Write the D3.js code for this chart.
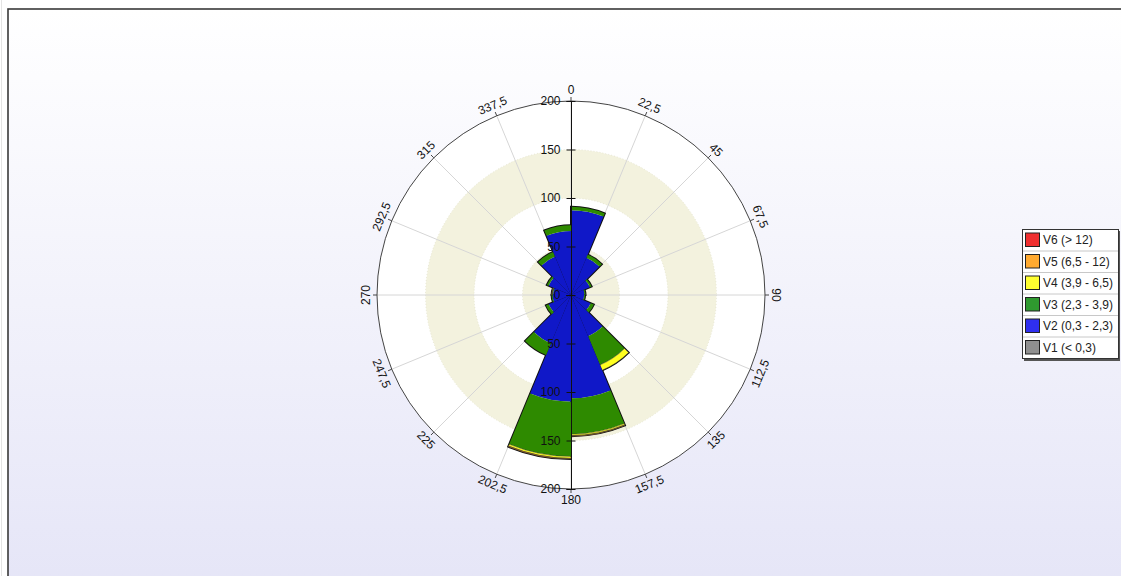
<!DOCTYPE html>
<html>
<head>
<meta charset="utf-8">
<script src="https://cdn.jsdelivr.net/npm/d3@7"></script>
<style>
  html, body { margin: 0; padding: 0; background: #ffffff; }
  svg { display: block; font-family: "Liberation Sans", Arial, sans-serif; }
</style>
</head>
<body>
<svg id="chart" width="1121" height="576"></svg>
<script>
// ---- data ----
const directionLabels = ["0","22,5","45","67,5","90","112,5","135","157,5","180","202,5","225","247,5","270","292,5","315","337,5"];
const sectorStart = [0,22.5,45,67.5,90,112.5,135,157.5,180,202.5,225,247.5,270,292.5,315,337.5];
const seriesNames = ["V1 (< 0,3)","V2 (0,3 - 2,3)","V3 (2,3 - 3,9)","V4 (3,9 - 6,5)","V5 (6,5 - 12)","V6 (> 12)"];
const v1 = [0,0,0,0,0,0,0,0,0,0,0,0,0,0,0,0];
const v2 = [87.5,41.5,21,14,13.5,22,46,106.5,110,54,25,19,18.5,25,43,66];
const v3 = [3.5,3.5,2,1,1,3.5,32,37,56.5,13,3,1,1,2,5,6];
const v4 = [0,0,0,0,0,0,6,1.5,2,0,0,0,0,0,0,0];
const v5 = [0,0,0,0,0,0,0,0.5,0.7,0,0,0,0.5,0,0,0];
const v6 = [0,0,0,0,0,0,0,0,0,0,0,0,0,0,0,0];
const radialTicks = [0,50,100,150,200];

const barColors = ["#8c8c8c","#1018c8","#2e8a00","#ffff20","#ffa020","#ff2020"];
const legendColors = ["#909090","#2f2ff0","#2f9a2f","#ffff30","#ffaa30","#f03030"];
const series = [v1,v2,v3,v4,v5,v6];

// ---- layout ----
const W = 1121, H = 576;
const cx = 571, cy = 295, R = 194;
const svg = d3.select("#chart");

const defs = svg.append("defs");
const grad = defs.append("linearGradient").attr("id","bg").attr("x1",0).attr("y1",0).attr("x2",0).attr("y2",1);
grad.append("stop").attr("offset","0%").attr("stop-color","#ffffff");
grad.append("stop").attr("offset","100%").attr("stop-color","#e5e5f7");

svg.append("line").attr("x1",1.5).attr("x2",1.5).attr("y1",0).attr("y2",H).attr("stroke","#e4e4e4");
svg.append("rect").attr("x",8).attr("y",9).attr("width",W+10).attr("height",H+10)
  .attr("fill","url(#bg)").attr("stroke","#3a3a3a").attr("stroke-width",1.6);

const r = d3.scaleLinear().domain([0,200]).range([0,R]);
const g = svg.append("g").attr("transform",`translate(${cx},${cy})`);

// bands
g.append("circle").attr("r", r(200)).attr("fill","#ffffff");
g.append("circle").attr("r", r(150)).attr("fill","#f3f2de");
g.append("circle").attr("r", r(100)).attr("fill","#ffffff");
g.append("circle").attr("r", r(50)).attr("fill","#f3f2de");
[50,100,150].forEach(v => g.append("circle").attr("r", r(v)).attr("fill","none")
  .attr("stroke","#e2e2cc").attr("stroke-dasharray","1,2").attr("stroke-width",0.8));

const rad = d => d * Math.PI / 180;
// radial gridlines
g.selectAll("line.grid").data(sectorStart).join("line").attr("class","grid")
  .attr("x1",0).attr("y1",0)
  .attr("x2", d => r(200)*Math.sin(rad(d)))
  .attr("y2", d => -r(200)*Math.cos(rad(d)))
  .attr("stroke","#d6d6d6").attr("stroke-width",1);

// bars (stacked): outlines first (2px), fills on top so only the outer perimeter shows
const arc = d3.arc();
const totals = sectorStart.map((a, i) => series.reduce((s, ser) => s + ser[i], 0));
const outlineG = g.append("g");
const fillG = g.append("g");
sectorStart.forEach((a, i) => {
  outlineG.append("path").attr("d", arc({innerRadius: 0, outerRadius: r(totals[i]), startAngle: rad(a), endAngle: rad(a + 22.5)}))
    .attr("fill","none").attr("stroke","#111").attr("stroke-width",2);
  let base = 0;
  series.forEach((s, k) => {
    const v = s[i];
    if (v > 0) {
      fillG.append("path").attr("d", arc({innerRadius: r(base), outerRadius: r(base + v),
        startAngle: rad(a), endAngle: rad(a + 22.5)}))
        .attr("fill", barColors[k]).attr("stroke", k >= 3 ? "#333" : "none").attr("stroke-width", k >= 3 ? 0.5 : 0);
    }
    base += v;
  });
});

// outer circle
g.append("circle").attr("r", r(200)).attr("fill","none").attr("stroke","#444").attr("stroke-width",1);
g.selectAll("line.otick").data(sectorStart).join("line").attr("class","otick")
  .attr("x1", d => r(200)*Math.sin(rad(d))).attr("y1", d => -r(200)*Math.cos(rad(d)))
  .attr("x2", d => (r(200)+4)*Math.sin(rad(d))).attr("y2", d => -(r(200)+4)*Math.cos(rad(d)))
  .attr("stroke","#444");

// direction labels
g.selectAll("text.dir").data(sectorStart).join("text").attr("class","dir")
  .attr("transform", (d) => {
    const rr = R + 11;
    const x = rr*Math.sin(rad(d)), y = -rr*Math.cos(rad(d));
    const rot = d <= 90 ? d : (d < 270 ? d - 180 : d - 360);
    return `translate(${x},${y}) rotate(${rot})`;
  })
  .attr("text-anchor","middle").attr("dominant-baseline","central")
  .attr("font-size","12px").attr("fill","#111")
  .text((d, i) => directionLabels[i]);

// radial axis (top and bottom halves)
const yTop = d3.scaleLinear().domain([0,200]).range([0,-R]);
const yBot = d3.scaleLinear().domain([0,200]).range([0,R]);
[yTop, yBot].forEach((sc, j) => {
  const ax = g.append("g").call(d3.axisLeft(sc).tickValues(radialTicks).tickSize(4.5).tickPadding(6).tickFormat(d3.format("d")));
  ax.select(".domain").attr("stroke","#111");
  ax.selectAll(".tick line").attr("x1", 4.5).attr("x2",-4.5).attr("stroke","#111");
  ax.selectAll(".tick text").attr("font-size","12px").attr("fill","#111")
    .attr("font-family","Liberation Sans, Arial, sans-serif");
  if (j === 1) ax.selectAll(".tick").filter(d => d === 0).remove();
});

// legend
const lg = svg.append("g").attr("transform","translate(1022,229)");
const rowH = 21.5, nRows = seriesNames.length;
lg.append("rect").attr("x",2).attr("y",2).attr("width",96).attr("height",rowH*nRows+1).attr("fill","#555");
lg.append("rect").attr("x",0.5).attr("y",0.5).attr("width",96).attr("height",rowH*nRows).attr("fill","#ffffff").attr("stroke","#333");
const order = d3.range(nRows).reverse();
order.forEach((k, row) => {
  const y0 = row * rowH;
  if (row > 0) lg.append("line").attr("x1",1).attr("x2",96).attr("y1",y0+0.5).attr("y2",y0+0.5).attr("stroke","#c8c8c8");
  lg.append("rect").attr("x",3.5).attr("y",y0+4).attr("width",14).attr("height",13.5)
    .attr("fill",legendColors[k]).attr("stroke","#222");
  lg.append("text").attr("x",21).attr("y",y0+rowH/2+0.5).attr("dominant-baseline","central")
    .attr("font-size","12px").attr("fill","#222").text(seriesNames[k]);
});
</script>
</body>
</html>
